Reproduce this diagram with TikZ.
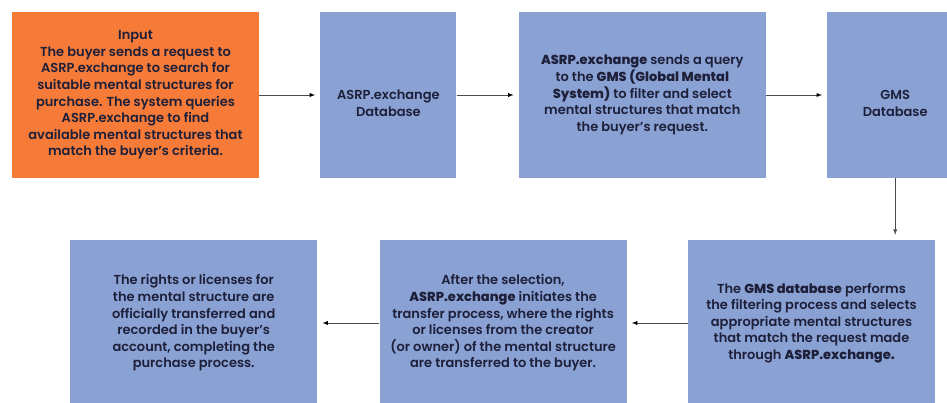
\documentclass[tikz,border=0pt]{standalone}
\usepackage{fontspec}
\setmainfont{Poppins}[UprightFont={* SemiBold},BoldFont={* ExtraBold}]
\usetikzlibrary{arrows,positioning}
\definecolor{boxblue}{RGB}{138,161,212}
\definecolor{boxorange}{RGB}{246,123,56}
\definecolor{txtnavy}{RGB}{30,32,58}
\begin{document}
\begin{tikzpicture}[x=1pt,y=1pt]

  \tikzset{main node/.style={rectangle, fill=boxblue, text=txtnavy,
  		align=center, inner sep=0pt, minimum width=247pt, minimum height=166pt,
  		font=\fontsize{13}{16.6}\selectfont}, }
  \tikzset{input node/.style={main node, fill=boxorange}, }
  \tikzset{db node/.style={main node, minimum width=136pt}, }
  \tikzset{linea/.style={-latex, draw=black!70, line width=0.9pt, shorten >=5pt}, }
\useasboundingbox (0,0) rectangle (947,-403);
\node[input node] (a) at (135.5,-95) {Input\\The buyer sends a request to\\ASRP.exchange to search for\\suitable mental structures for\\purchase. The system queries\\ASRP.exchange to find\\available mental structures that\\match the buyer’s criteria.};
\node[db node] (b) [right=61pt of a] {\rule{0pt}{26pt}ASRP.exchange\\Database};
\node[main node] (c) [right=62pt of b] {\textbf{ASRP.exchange} sends a query\\to the \textbf{GMS (Global Mental}\\\textbf{System)} to filter and select\\mental structures that match\\the buyer’s request.};
\node[db node] (d) [right=61pt of c] {\rule{0pt}{26pt}GMS\\Database};

\node[main node] (e) at (811.5,-323) {The \textbf{GMS database} performs\\the filtering process and selects\\appropriate mental structures\\that match the request made\\through \textbf{ASRP.exchange.}};
\node[main node] (f) [left=61pt of e] {After the selection,\\\textbf{ASRP.exchange} initiates the\\transfer process, where the rights\\or licenses from the creator\\(or owner) of the mental structure\\are transferred to the buyer.};
\node[main node] (g) [left=62pt of f] {The rights or licenses for\\the mental structure are\\officially transferred and\\recorded in the buyer’s\\account,  completing the\\purchase process.};

\foreach \x /\y in {a/b,b/c,c/d,e/f,f/g}
  \path[linea] (\x) edge node {} (\y);
\draw[linea] (d.south) -- (d.south |- e.north);
%%
\end{tikzpicture}
\end{document}
